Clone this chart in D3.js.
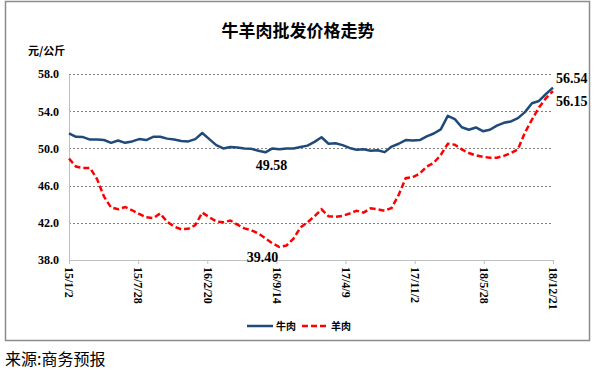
<!DOCTYPE html>
<html>
<head>
<meta charset="utf-8">
<script src="https://cdn.jsdelivr.net/npm/d3@7"></script>
<style>
  body { margin: 0; background: #fff; }
  svg { display: block; }
</style>
</head>
<body>
<div id="chart"></div>
<script>
// sample dates (every 3 weeks)
const dates = [
  '2015-01-02','2015-01-23','2015-02-13','2015-03-06','2015-03-27','2015-04-17','2015-05-08','2015-05-29','2015-06-19','2015-07-10',
  '2015-07-31','2015-08-21','2015-09-11','2015-10-02','2015-10-23','2015-11-13','2015-12-04','2015-12-25','2016-01-15','2016-02-05',
  '2016-02-26','2016-03-18','2016-04-08','2016-04-29','2016-05-20','2016-06-10','2016-07-01','2016-07-22','2016-08-12','2016-09-02',
  '2016-09-23','2016-10-14','2016-11-04','2016-11-25','2016-12-16','2017-01-06','2017-01-27','2017-02-17','2017-03-10','2017-03-31',
  '2017-04-21','2017-05-12','2017-06-02','2017-06-23','2017-07-14','2017-08-04','2017-08-25','2017-09-15','2017-10-06','2017-10-27',
  '2017-11-17','2017-12-08','2017-12-29','2018-01-19','2018-02-09','2018-03-02','2018-03-23','2018-04-13','2018-05-04','2018-05-25',
  '2018-06-15','2018-07-06','2018-07-27','2018-08-17','2018-09-07','2018-09-28','2018-10-19','2018-11-09','2018-11-30','2018-12-21'
];

const beef = [
  51.62, 51.25, 51.22, 50.95, 50.95, 50.9, 50.6, 50.85, 50.6, 50.75,
  51.0, 50.9, 51.25, 51.25, 51.05, 50.95, 50.8, 50.75, 51.0, 51.65,
  51.0, 50.35, 50.0, 50.15, 50.1, 50.0, 49.95, 49.75, 49.58, 50.0,
  49.9, 50.0, 50.0, 50.15, 50.3, 50.7, 51.2, 50.5, 50.55, 50.35,
  50.05, 49.85, 49.9, 49.75, 49.8, 49.6, 50.2, 50.5, 50.9, 50.85,
  50.9, 51.3, 51.6, 52.05, 53.5, 53.15, 52.27, 52.0, 52.25, 51.85,
  52.0, 52.45, 52.75, 52.9, 53.25, 53.9, 54.85, 55.1, 55.85, 56.54
];

const mutton = [
  48.9, 48.05, 47.9, 47.9, 46.7, 44.8, 43.65, 43.45, 43.7, 43.35,
  42.95, 42.6, 42.5, 43.0, 42.1, 41.6, 41.3, 41.35, 41.75, 43.1,
  42.6, 42.15, 42.05, 42.25, 41.8, 41.4, 41.2, 40.85, 40.33, 39.8,
  39.4, 39.55, 40.3, 41.5, 42.05, 42.7, 43.45, 42.7, 42.65, 42.75,
  43.0, 43.3, 43.1, 43.55, 43.45, 43.3, 43.6, 45.0, 46.8, 46.9,
  47.3, 48.05, 48.45, 49.3, 50.5, 50.4, 49.9, 49.5, 49.25, 49.1,
  49.0, 49.0, 49.2, 49.5, 49.9, 51.7, 53.1, 54.4, 55.4, 56.15
];

const tickDates = ['2015-01-02','2015-07-28','2016-02-20','2016-09-14','2017-04-09','2017-11-02','2018-05-28','2018-12-21'];
const tickLabels = ['15/1/2','15/7/28','16/2/20','16/9/14','17/4/9','17/11/2','18/5/28','18/12/21'];
const yTicks = [38, 42, 46, 50, 54, 58];

const seriesNames = ['牛肉', '羊肉'];
const seriesColors = ['#1f4a7a', '#ff0000'];

const W = 596, H = 370;
const margin = { top: 74, right: 43, bottom: 110, left: 69 };
const width = W - margin.left - margin.right;
const height = H - margin.top - margin.bottom;

const parse = d3.timeParse('%Y-%m-%d');
const xs = dates.map(parse);

const svg = d3.select('#chart').append('svg')
  .attr('width', W)
  .attr('height', H);

// outer frame
svg.append('rect')
  .attr('x', 5.5).attr('y', 1.5)
  .attr('width', 584).attr('height', 339)
  .attr('fill', 'none')
  .attr('stroke', '#8c8c8c')
  .attr('stroke-width', 1.5);

svg.append('text')
  .attr('x', 298).attr('y', 37)
  .attr('text-anchor', 'middle')
  .attr('font-family', '"Noto Sans CJK SC", sans-serif')
  .attr('font-weight', 'bold')
  .attr('font-size', 17)
  .text('牛羊肉批发价格走势');

svg.append('text')
  .attr('x', 28).attr('y', 55)
  .attr('font-family', '"Noto Sans CJK SC", serif')
  .attr('font-weight', 'bold')
  .attr('font-size', 11)
  .text('元/公斤');

const g = svg.append('g')
  .attr('transform', 'translate(' + margin.left + ',' + margin.top + ')');

const x = d3.scaleTime()
  .domain([parse(tickDates[0]), parse(tickDates[tickDates.length - 1])])
  .range([0, width]);

const y = d3.scaleLinear()
  .domain([38, 58])
  .range([height, 0]);

// grid lines
g.append('g')
  .selectAll('line')
  .data(yTicks.filter(d => d > 38))
  .enter().append('line')
  .attr('x1', 0).attr('x2', width)
  .attr('y1', d => Math.round(y(d)) + 0.5)
  .attr('y2', d => Math.round(y(d)) + 0.5)
  .attr('stroke', '#808080')
  .attr('stroke-dasharray', '2,2');

// y axis
const yAxis = g.append('g')
  .call(d3.axisLeft(y).tickValues(yTicks).tickSize(0).tickPadding(10).tickFormat(d3.format('.1f')));
yAxis.select('.domain').attr('stroke', '#bfbfbf');
yAxis.selectAll('text')
  .attr('font-family', '"Liberation Serif", serif')
  .attr('font-weight', 'bold')
  .attr('font-size', 12)
  .attr('fill', '#000');

// x axis
const xAxis = g.append('g')
  .attr('transform', 'translate(0,' + height + ')')
  .call(d3.axisBottom(x)
    .tickValues(tickDates.map(parse))
    .tickSize(4)
    .tickFormat((d, i) => tickLabels[i]));
xAxis.select('.domain').attr('stroke', '#bfbfbf');
xAxis.selectAll('.tick line').attr('stroke', '#bfbfbf');
xAxis.selectAll('text')
  .attr('font-family', '"Liberation Serif", serif')
  .attr('font-weight', 'bold')
  .attr('font-size', 12)
  .attr('fill', '#000')
  .attr('transform', 'rotate(90)')
  .attr('text-anchor', 'start')
  .attr('dy', '0.35em')
  .attr('x', 7)
  .attr('y', 0);

const line = d3.line()
  .x((d, i) => x(xs[i]))
  .y(d => y(d));

g.append('path')
  .datum(beef)
  .attr('fill', 'none')
  .attr('stroke', seriesColors[0])
  .attr('stroke-width', 2.5)
  .attr('stroke-linejoin', 'round')
  .attr('d', line);

g.append('path')
  .datum(mutton)
  .attr('fill', 'none')
  .attr('stroke', seriesColors[1])
  .attr('stroke-width', 2.5)
  .attr('stroke-dasharray', '6,3')
  .attr('d', line);

// value labels
const noteStyle = sel => sel
  .attr('font-family', '"Liberation Serif", serif')
  .attr('font-weight', 'bold')
  .attr('font-size', 14)
  .attr('fill', '#000');

const beefMinI = beef.indexOf(d3.min(beef));
const muttonMinI = mutton.indexOf(d3.min(mutton));
const last = dates.length - 1;

g.append('text').call(noteStyle)
  .attr('x', x(xs[beefMinI]) + 6).attr('y', y(beef[beefMinI]) + 18)
  .attr('text-anchor', 'middle')
  .text(beef[beefMinI].toFixed(2));

g.append('text').call(noteStyle)
  .attr('x', x(xs[muttonMinI]) - 17).attr('y', y(mutton[muttonMinI]) + 15)
  .attr('text-anchor', 'middle')
  .text(mutton[muttonMinI].toFixed(2));

g.append('text').call(noteStyle)
  .attr('x', x(xs[last]) + 3).attr('y', y(beef[last]) - 5)
  .text(beef[last].toFixed(2));

g.append('text').call(noteStyle)
  .attr('x', x(xs[last]) + 3).attr('y', y(mutton[last]) + 15)
  .text(mutton[last].toFixed(2));

// legend
const legend = svg.append('g').attr('transform', 'translate(247,326)');
const lx = [0, 55];
seriesNames.forEach((name, i) => {
  legend.append('line')
    .attr('x1', lx[i]).attr('x2', lx[i] + 26)
    .attr('y1', 0).attr('y2', 0)
    .attr('stroke', seriesColors[i])
    .attr('stroke-width', 2.5)
    .attr('stroke-dasharray', i === 1 ? '6,3' : null);
  legend.append('text')
    .attr('x', lx[i] + 29).attr('y', 4)
    .attr('font-family', '"Noto Sans CJK SC", sans-serif')
    .attr('font-weight', 'bold')
    .attr('font-size', 10)
    .text(name);
});

svg.append('text')
  .attr('x', 5).attr('y', 365)
  .attr('font-family', '"Noto Sans CJK SC", sans-serif')
  .attr('font-size', 16)
  .text('来源:商务预报');
</script>
</body>
</html>
